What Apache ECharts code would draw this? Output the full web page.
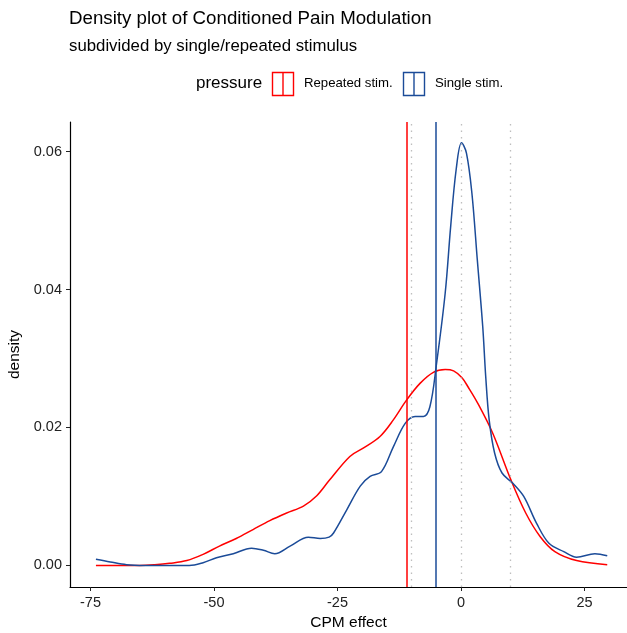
<!DOCTYPE html>
<html>
<head>
<meta charset="utf-8">
<script src="https://cdn.jsdelivr.net/npm/echarts@6/dist/echarts.min.js"></script>
<style>
  html, body { margin: 0; padding: 0; background: #fff; }
  #chart { width: 627px; height: 633px; }
</style>
</head>
<body>
<div id="chart"></div>
<script>
// density curves
var repeatedX = [-73.9, -70, -65, -62, -59, -55.5, -52.2, -48.9, -45.5, -42.1, -38.7, -35.3, -31.9, -29.2, -26.7,
  -22.5, -19.8, -16.4, -13.7, -11, -8.3, -5.6, -3.2, -1.5, 0.2, 1.5, 3.4, 6.4, 10.1, 13.1, 16.0, 19.0, 23.4, 29.6]
var repeatedY = [0, 0, 0, 0.0001, 0.0003, 0.0007, 0.0016, 0.0028, 0.0039, 0.0052, 0.0065, 0.0076, 0.0086, 0.0101, 0.0123,
  0.0158, 0.0170, 0.0187, 0.0211, 0.0240, 0.0264, 0.0280, 0.0284, 0.0282, 0.0272, 0.0258, 0.0235, 0.0192, 0.0124, 0.0076, 0.0042, 0.0020, 0.0007, 0.0001]

var singleX = [-73.9, -71, -67.7, -64, -60, -55, -52.2, -49.5, -46.1, -42.4, -40, -37.7, -34.6, -30.9, -28.5, -26.7, -25.8,
  -23.1, -20.4, -18.4, -16.1, -13.7, -11.3, -9.3, -7.6, -6.3, -5.0, -3.2, -2.1, -1.0, 0.1, 1.1, 2.2, 3.3, 4.4, 5.0, 5.7,
  6.8, 8.3, 10.5, 12.7, 15.3, 17.8, 20.8, 23.4, 27.1, 29.6]
var singleY = [0.0009, 0.0005, 0.0001, 0, 0, 0, 0.0004, 0.0011, 0.0017, 0.0025, 0.0022, 0.0017, 0.0028, 0.0041, 0.0039, 0.0041, 0.0047,
  0.0081, 0.0115, 0.0129, 0.0136, 0.0172, 0.0206, 0.0216, 0.0216, 0.0230, 0.0290, 0.0395, 0.0491, 0.0573, 0.0613, 0.0598, 0.0540, 0.0443, 0.0346, 0.0274, 0.0211,
  0.0163, 0.0134, 0.0119, 0.0100, 0.0061, 0.0032, 0.0020, 0.0012, 0.0017, 0.0014]

// group means (solid) and reference lines (dotted)
var repeatedMean = -11.0
var singleMean = -5.2
var refLines = [-10, 0, 10]

var xTicks = [-75, -50, -25, 0, 25]
var yTicks = [0, 0.02, 0.04, 0.06]

var red = '#FF0000'
var blue = '#1B4B98'
var font = 'Liberation Sans, Arial, sans-serif'

function zip(xs, ys) {
  return xs.map(function (x, i) { return [x, ys[i]] })
}

var myChart = echarts.init(document.getElementById('chart'))
var option = {
  animation: false,
  textStyle: { fontFamily: font },
  title: {
    text: 'Density plot of Conditioned Pain Modulation',
    subtext: 'subdivided by single/repeated stimulus',
    left: 64,
    top: 4,
    itemGap: 10,
    textStyle: { fontSize: 18.7, fontWeight: 'normal', color: '#000', fontFamily: font },
    subtextStyle: { fontSize: 16.8, color: '#000', fontFamily: font }
  },
  grid: {
    left: 70,
    right: 0,
    top: 122,
    bottom: 46,
    outerBoundsMode: 'none'
  },
  xAxis: {
    type: 'value',
    min: -79.15,
    max: 33.6,
    name: 'CPM effect',
    nameLocation: 'middle',
    nameGap: 28,
    nameTextStyle: { fontSize: 15.5, color: '#000' },
    splitLine: { show: false },
    axisLine: { onZero: false, lineStyle: { color: '#000', width: 1.2 } },
    axisTick: { length: 4, lineStyle: { color: '#222' }, customValues: xTicks },
    axisLabel: { fontSize: 14.5, color: '#222', margin: 8, customValues: xTicks }
  },
  yAxis: {
    type: 'value',
    min: -0.00313,
    max: 0.0643,
    name: 'density',
    nameLocation: 'middle',
    nameRotate: 90,
    nameGap: 41,
    nameTextStyle: { fontSize: 15.5, color: '#000' },
    splitLine: { show: false },
    axisLine: { show: true, onZero: false, lineStyle: { color: '#000', width: 1.2 } },
    axisTick: { show: true, length: 4, lineStyle: { color: '#222' }, customValues: yTicks },
    axisLabel: {
      fontSize: 14.5, color: '#222', margin: 8, customValues: yTicks,
      formatter: function (v) { return v.toFixed(2) }
    }
  },
  graphic: [
    { type: 'text', left: 196, top: 75, style: { text: 'pressure', fontSize: 17, fill: '#000', fontFamily: font } },
    { type: 'rect', shape: { x: 272.5, y: 72.5, width: 21, height: 23 }, style: { fill: 'none', stroke: red, lineWidth: 1.4 } },
    { type: 'line', shape: { x1: 283, y1: 72.5, x2: 283, y2: 95.5 }, style: { stroke: red, lineWidth: 1.4 } },
    { type: 'text', left: 304, top: 77, style: { text: 'Repeated stim.', fontSize: 13.2, fill: '#000', fontFamily: font } },
    { type: 'rect', shape: { x: 403.5, y: 72.5, width: 21, height: 23 }, style: { fill: 'none', stroke: blue, lineWidth: 1.4 } },
    { type: 'line', shape: { x1: 414, y1: 72.5, x2: 414, y2: 95.5 }, style: { stroke: blue, lineWidth: 1.4 } },
    { type: 'text', left: 435, top: 77, style: { text: 'Single stim.', fontSize: 13.2, fill: '#000', fontFamily: font } }
  ],
  series: [
    {
      name: 'reference',
      type: 'line',
      data: [],
      z: 1,
      markLine: {
        silent: true,
        symbol: 'none',
        label: { show: false },
        lineStyle: { color: '#BEBEBE', type: [1.5, 5], width: 1.3 },
        data: refLines.map(function (v) { return { xAxis: v } })
      }
    },
    {
      name: 'Repeated stim.',
      type: 'line',
      data: zip(repeatedX, repeatedY),
      smooth: 0.35,
      showSymbol: false,
      z: 3,
      lineStyle: { color: red, width: 1.5 },
      itemStyle: { color: red },
      markLine: {
        silent: true,
        symbol: 'none',
        label: { show: false },
        lineStyle: { color: red, type: 'solid', width: 1.5 },
        data: [{ xAxis: repeatedMean }]
      }
    },
    {
      name: 'Single stim.',
      type: 'line',
      data: zip(singleX, singleY),
      smooth: 0.35,
      showSymbol: false,
      z: 3,
      lineStyle: { color: blue, width: 1.5 },
      itemStyle: { color: blue },
      markLine: {
        silent: true,
        symbol: 'none',
        label: { show: false },
        lineStyle: { color: blue, type: 'solid', width: 1.5 },
        data: [{ xAxis: singleMean }]
      }
    }
  ]
}
myChart.setOption(option)
window.onresize = myChart.resize
</script>
</body>
</html>
